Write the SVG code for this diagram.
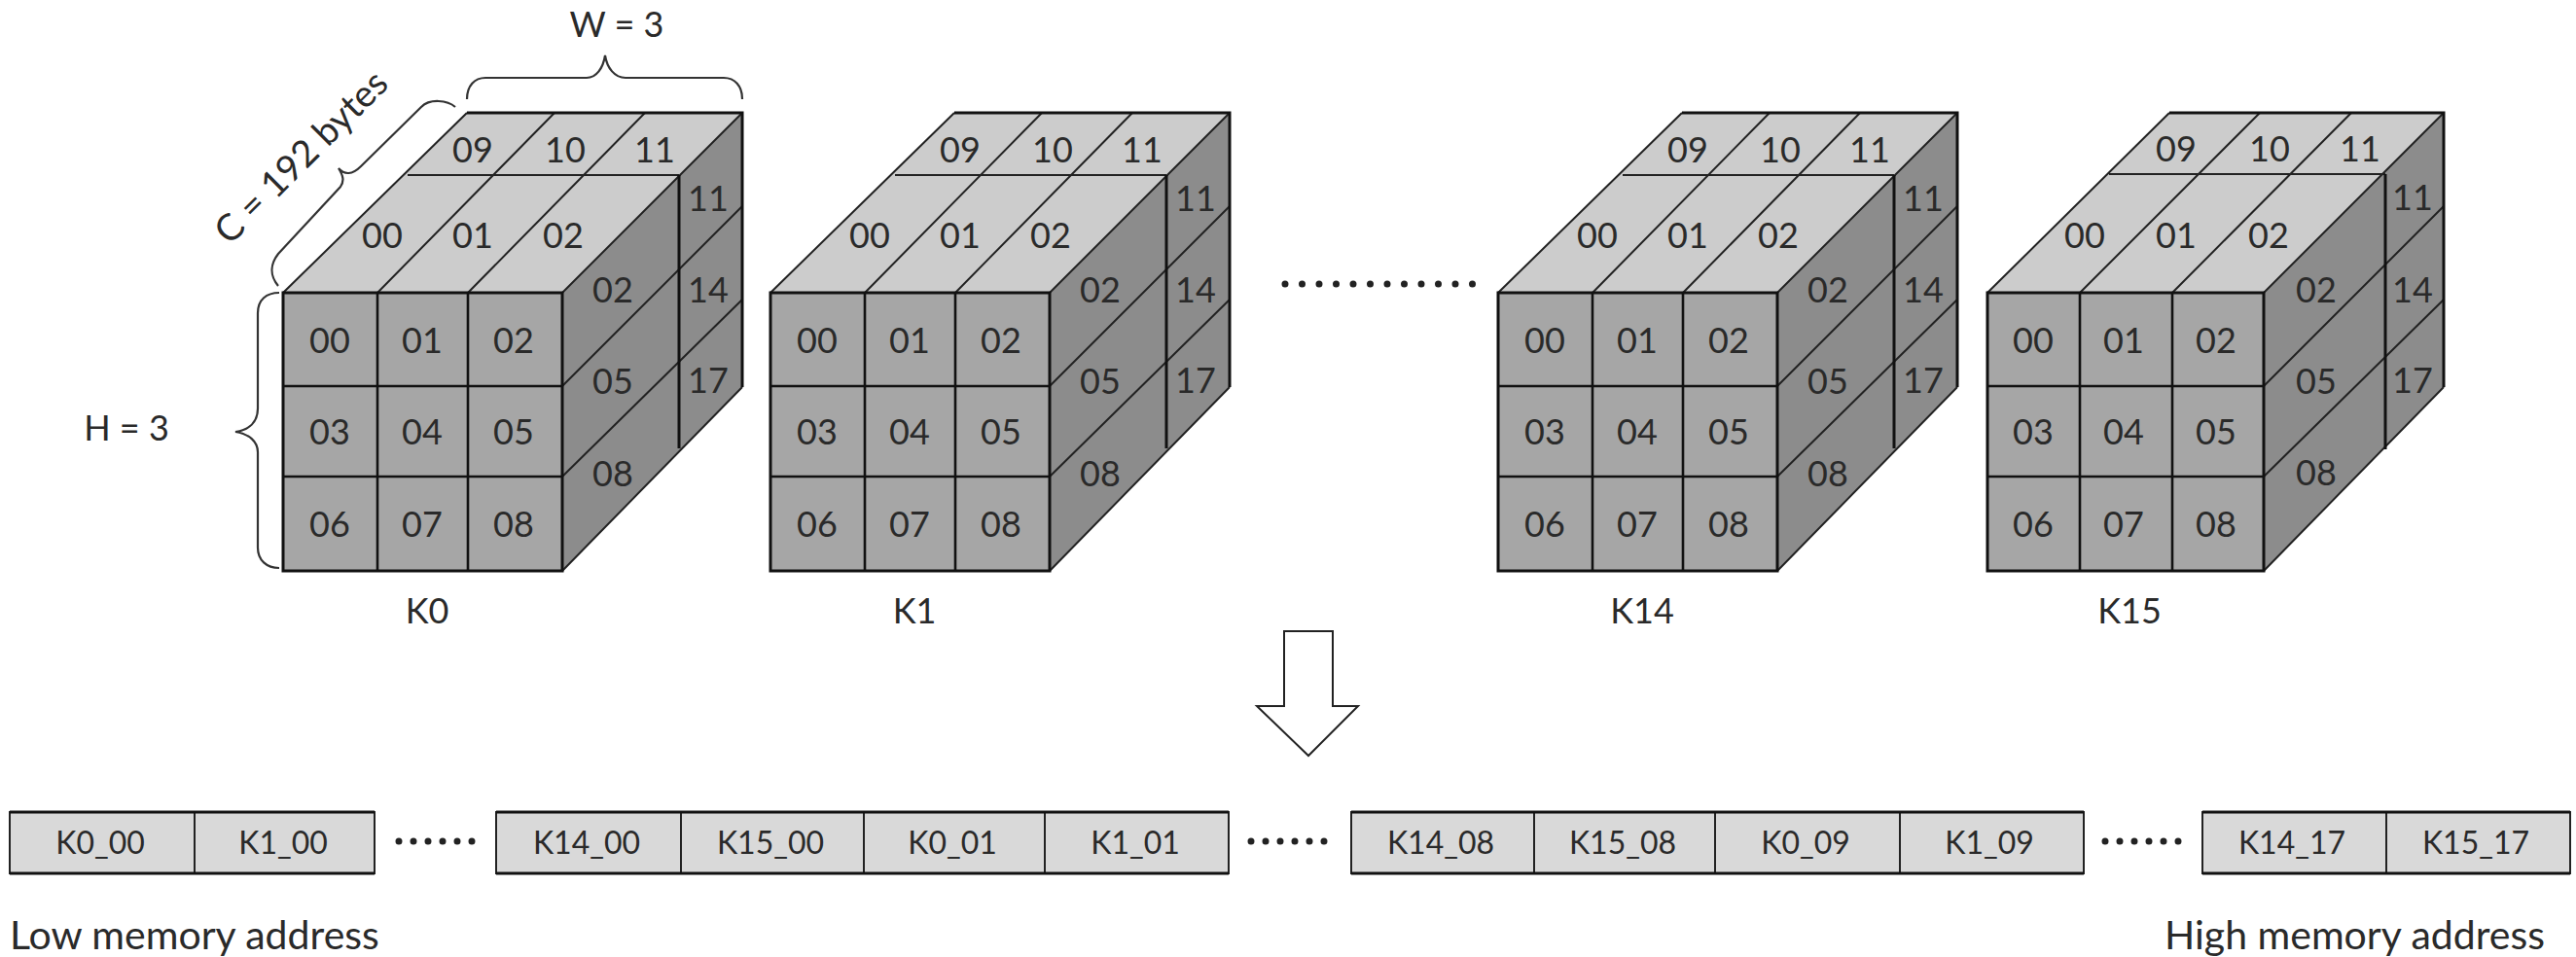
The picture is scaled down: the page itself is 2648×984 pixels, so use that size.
<svg xmlns="http://www.w3.org/2000/svg" width="2648" height="984" viewBox="0 0 2648 984">
<style>
text{font-family:"Lato","Liberation Sans",sans-serif;fill:#2a2a2a;font-size:36px;text-anchor:middle;dominant-baseline:central}
.m{font-size:32px}
.a{font-size:41px;text-anchor:start}
.top{fill:#ccc;stroke:none}
.front{fill:#a6a6a6;stroke:#111;stroke-width:3}
.side{fill:#8c8c8c;stroke:none}
.l{fill:none;stroke:#222;stroke-width:2}
.g{fill:none;stroke:#111;stroke-width:2.6}
.b{fill:none;stroke:#333;stroke-width:2.2}
.cell{fill:#d9d9d9;stroke:#222;stroke-width:2}
.edge{fill:none;stroke:#111;stroke-width:3}
</style>
<defs>
<g id="box">
<polygon class="top" points="291,301 480,116 763,116 578,301"/>
<polygon class="side" points="578,301 763,116 763,398 578,587"/>
<path class="l" d="M291,301L480,116M388,301L570,116M481,301L663,116M578,301L763,116M578,397L763,212M578,490L763,308M578,587L763,398M419,180H698"/>
<path class="edge" d="M480,116H763V398M698,180V461"/>
<rect class="front" x="291" y="301" width="287" height="286"/>
<path class="g" d="M291,397H578M291,490H578M388,301V587M481,301V587"/>
</g>
</defs>
<g id="K0"><use href="#box"/>
<text x="339" y="349">00</text><text x="434" y="349">01</text><text x="528" y="349">02</text><text x="339" y="443">03</text><text x="434" y="443">04</text><text x="528" y="443">05</text><text x="339" y="538">06</text><text x="434" y="538">07</text><text x="528" y="538">08</text>
<text x="393" y="241">00</text><text x="486" y="241">01</text><text x="579" y="241">02</text><text x="486" y="153">09</text><text x="581" y="153">10</text><text x="673" y="153">11</text>
<text x="630" y="297">02</text><text x="630" y="391">05</text><text x="630" y="486">08</text><text x="728" y="203">11</text><text x="728" y="297">14</text><text x="728" y="390">17</text>
<text x="439" y="627">K0</text></g>
<g id="K1" transform="translate(501 0)"><use href="#box"/>
<text x="339" y="349">00</text><text x="434" y="349">01</text><text x="528" y="349">02</text><text x="339" y="443">03</text><text x="434" y="443">04</text><text x="528" y="443">05</text><text x="339" y="538">06</text><text x="434" y="538">07</text><text x="528" y="538">08</text>
<text x="393" y="241">00</text><text x="486" y="241">01</text><text x="579" y="241">02</text><text x="486" y="153">09</text><text x="581" y="153">10</text><text x="673" y="153">11</text>
<text x="630" y="297">02</text><text x="630" y="391">05</text><text x="630" y="486">08</text><text x="728" y="203">11</text><text x="728" y="297">14</text><text x="728" y="390">17</text>
<text x="439" y="627">K1</text></g>
<g id="K14" transform="translate(1249 0)"><use href="#box"/>
<text x="339" y="349">00</text><text x="434" y="349">01</text><text x="528" y="349">02</text><text x="339" y="443">03</text><text x="434" y="443">04</text><text x="528" y="443">05</text><text x="339" y="538">06</text><text x="434" y="538">07</text><text x="528" y="538">08</text>
<text x="393" y="241">00</text><text x="486" y="241">01</text><text x="579" y="241">02</text><text x="486" y="153">09</text><text x="581" y="153">10</text><text x="673" y="153">11</text>
<text x="630" y="297">02</text><text x="630" y="391">05</text><text x="630" y="486">08</text><text x="728" y="203">11</text><text x="728" y="297">14</text><text x="728" y="390">17</text>
<text x="439" y="627">K14</text></g>
<g id="K15">
<polygon class="top" points="2043,301 2230,116 2512,116 2327,301"/>
<polygon class="side" points="2327,301 2512,116 2512,398 2327,587"/>
<path class="l" d="M2043,301L2230,116M2138,301L2323,116M2233,301L2417,116M2327,301L2512,116M2327,397L2512,212M2327,490L2512,308M2327,587L2512,398M2168,179H2452"/>
<path class="edge" d="M2230,116H2512V398M2452,179V462"/>
<rect class="front" x="2043" y="301" width="284" height="286"/>
<path class="g" d="M2043,397H2327M2043,490H2327M2138,301V587M2233,301V587"/>
<text x="2090" y="349">00</text><text x="2183" y="349">01</text><text x="2278" y="349">02</text><text x="2090" y="443">03</text><text x="2183" y="443">04</text><text x="2278" y="443">05</text><text x="2090" y="538">06</text><text x="2183" y="538">07</text><text x="2278" y="538">08</text>
<text x="2143" y="241">00</text><text x="2237" y="241">01</text><text x="2332" y="241">02</text><text x="2237" y="152">09</text><text x="2333" y="152">10</text><text x="2426" y="152">11</text>
<text x="2381" y="297">02</text><text x="2381" y="391">05</text><text x="2381" y="485">08</text><text x="2480" y="202">11</text><text x="2480" y="297">14</text><text x="2480" y="390">17</text>
<text x="2189" y="627">K15</text></g>
<g id="braces">
<path class="b" d="M480,102C480,88 488,80 499,80H603C613,80 620,70 622,57C624,70 632,80 643,80H744C755,80 763,88 763,102"/>
<path class="b" d="M287,301C274,301 265,308 265,322V420C265,434 256,442 242,444C256,446 265,454 265,465V563C265,576 274,584 287,584"/>
<path class="b" d="M468,110C460,103 442,101 433,110L371,171C362,180 354,180 348,173C353,181 354,186 350,192L286,261C279,270 276,282 286,294"/>
</g>
<text id="w" x="634" y="24">W = 3</text>
<text id="h" x="130" y="439">H = 3</text>
<text id="c" x="308" y="160" transform="rotate(-45 308 160)" style="font-size:38px">C = 192 bytes</text>
<path id="arrow" d="M1320,649H1370V726H1396L1345,777L1292,726H1320Z" fill="#fff" stroke="#222" stroke-width="2"/>
<g id="row">
<rect class="cell" x="10" y="835" width="190" height="63"/><rect class="cell" x="200" y="835" width="185" height="63"/>
<rect class="cell" x="510" y="835" width="190" height="63"/><rect class="cell" x="700" y="835" width="188" height="63"/><rect class="cell" x="888" y="835" width="186" height="63"/><rect class="cell" x="1074" y="835" width="189" height="63"/>
<rect class="cell" x="1389" y="835" width="188" height="63"/><rect class="cell" x="1577" y="835" width="186" height="63"/><rect class="cell" x="1763" y="835" width="190" height="63"/><rect class="cell" x="1953" y="835" width="189" height="63"/>
<rect class="cell" x="2264" y="835" width="189" height="63"/><rect class="cell" x="2453" y="835" width="189" height="63"/>
<path class="edge" d="M10,835H385M10,898H385M510,835H1263M510,898H1263M1389,835H2142M1389,898H2142M2264,835H2642M2264,898H2642"/>
<text class="m" x="103" y="865">K0_00</text><text class="m" x="291" y="865">K1_00</text><text class="m" x="603" y="865">K14_00</text><text class="m" x="792" y="865">K15_00</text><text class="m" x="979" y="865">K0_01</text><text class="m" x="1167" y="865">K1_01</text>
<text class="m" x="1481" y="865">K14_08</text><text class="m" x="1668" y="865">K15_08</text><text class="m" x="1856" y="865">K0_09</text><text class="m" x="2045" y="865">K1_09</text><text class="m" x="2356" y="865">K14_17</text><text class="m" x="2545" y="865">K15_17</text>
</g>
<g id="dots" stroke="#222" stroke-width="7" stroke-linecap="round" stroke-dasharray="0 15" fill="none">
<path d="M410,865H486"/><path d="M1286,865H1362"/><path d="M2164,865H2240"/><path d="M1321,292H1514" stroke-dasharray="0 17.5"/>
</g>
<text id="low" class="a" x="10" y="960">Low memory address</text>
<text id="high" class="a" x="2225" y="960">High memory address</text>
</svg>
